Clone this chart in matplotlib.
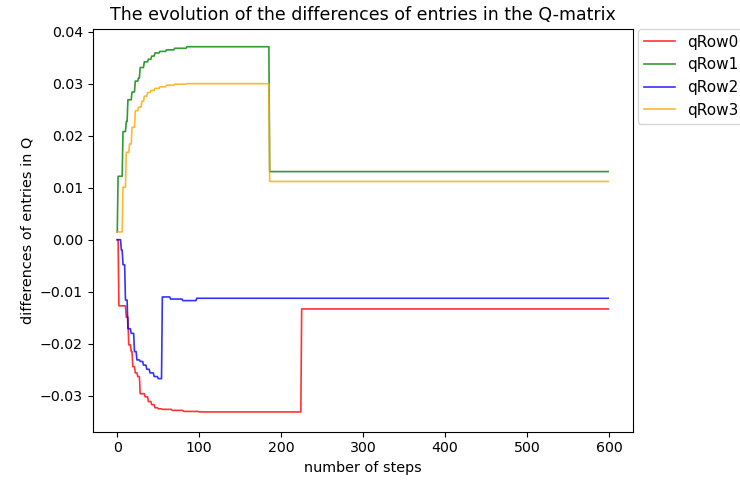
import numpy as np
import matplotlib
matplotlib.use("Agg")
import matplotlib.pyplot as plt

n_steps = 600

# Step positions where each row's difference changes, and the value held from there on
row0_steps = [0, 2, 11, 14, 17, 19, 22, 25, 28, 34, 38, 42, 46, 50, 55, 67, 81, 100, 225]
row0_vals = [0.0, -0.0127, -0.0149, -0.0202, -0.0215, -0.0244, -0.0256, -0.0263, -0.0296,
             -0.0302, -0.0311, -0.0317, -0.0323, -0.0325, -0.0326, -0.0328, -0.0330, -0.0331,
             -0.0133]

row1_steps = [0, 1, 7, 11, 13, 18, 22, 26, 28, 33, 38, 42, 46, 52, 60, 70, 85, 186]
row1_vals = [0.0015, 0.0122, 0.0208, 0.0227, 0.0269, 0.0284, 0.0305, 0.0311, 0.0331, 0.0342,
             0.0347, 0.0353, 0.0359, 0.0362, 0.0365, 0.0368, 0.0371, 0.0131]

row2_steps = [0, 5, 7, 10, 13, 17, 21, 24, 28, 32, 36, 40, 45, 50, 55, 65, 80, 97]
row2_vals = [0.0, -0.0020, -0.0048, -0.0116, -0.0171, -0.0180, -0.0215, -0.0231, -0.0234,
             -0.0241, -0.0249, -0.0256, -0.0263, -0.0267, -0.0110, -0.0114, -0.0117, -0.01125]

row3_steps = [0, 7, 11, 15, 18, 22, 26, 30, 33, 37, 41, 46, 52, 60, 70, 85, 186]
row3_vals = [0.0015, 0.0101, 0.0168, 0.0184, 0.0216, 0.0248, 0.0255, 0.0266, 0.0276, 0.0283,
             0.0287, 0.0291, 0.0294, 0.0297, 0.0299, 0.0300, 0.0112]

labels = ["qRow0", "qRow1", "qRow2", "qRow3"]
colors = ["red", "green", "blue", "orange"]


def expand(steps, vals):
    """Hold each value until the next change, over all steps."""
    series = np.empty(n_steps)
    bounds = list(steps) + [n_steps]
    for i, v in enumerate(vals):
        series[bounds[i]:bounds[i + 1]] = v
    return series


rows = [(row0_steps, row0_vals), (row1_steps, row1_vals),
        (row2_steps, row2_vals), (row3_steps, row3_vals)]

fig = plt.figure(figsize=(7.4, 4.8), dpi=100)
ax = fig.add_axes([0.1253, 0.1006, 0.855 - 0.1253, 0.9406 - 0.1006])

x = np.arange(n_steps)
for (st, vl), lab, col in zip(rows, labels, colors):
    ax.plot(x, expand(st, vl), color=col, alpha=0.8, linewidth=1.2, label=lab)

ax.set_xlim(-29.95, 628.95)
ax.set_ylim(-0.0369, 0.0406)
ax.set_xticks([0, 100, 200, 300, 400, 500, 600])
ax.set_yticks([-0.03, -0.02, -0.01, 0.0, 0.01, 0.02, 0.03, 0.04])
ax.tick_params(labelsize=10.2)
ax.set_title("The evolution of the differences of entries in the Q-matrix", fontsize=12.5)
ax.set_xlabel("number of steps", fontsize=10.4)
ax.set_ylabel("differences of entries in Q", fontsize=10.4)
ax.legend(loc="upper left", bbox_to_anchor=(1.01, 1.0), borderaxespad=0, fontsize=11)

fig.savefig("out.png", dpi=100)
